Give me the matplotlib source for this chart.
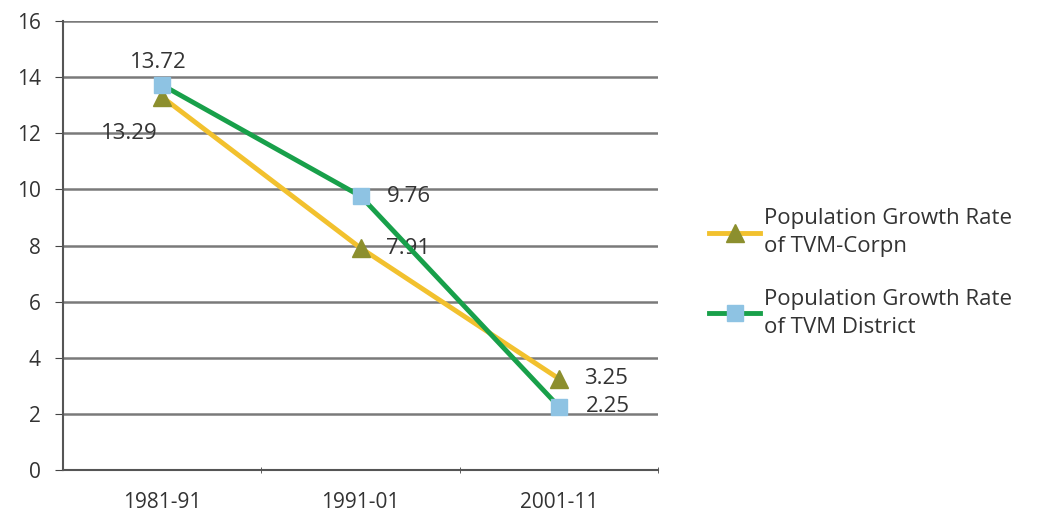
import matplotlib.pyplot as plt
import numpy as np

plt.rcParams['font.family'] = ['Open Sans', 'DejaVu Sans']
plt.rcParams['font.size'] = 15

periods = ['1981-91', '1991-01', '2001-11']
corpn = [13.29, 7.91, 3.25]
district = [13.72, 9.76, 2.25]
corpn_label = 'Population Growth Rate\nof TVM-Corpn'
district_label = 'Population Growth Rate\nof TVM District'

fig = plt.figure(figsize=(10.41, 5.27), dpi=100)
ax = fig.add_axes([0.0605, 0.108, 0.572, 0.852])

x = np.arange(len(periods))
ax.plot(x, corpn, color='#F2C12E', lw=3.5, marker='^', ms=13,
        mfc='#8C8F2E', mec='#8C8F2E', label=corpn_label, zorder=3)
ax.plot(x, district, color='#18A04A', lw=3.5, marker='s', ms=12,
        mfc='#8EC3E3', mec='#8EC3E3', label=district_label, zorder=4)

# value labels
lab = dict(textcoords='offset points', color='#333333', fontsize=16)
ax.annotate(f'{district[0]:.2f}', (x[0], district[0]), xytext=(-3, 9),
            ha='center', va='bottom', **lab)
ax.annotate(f'{corpn[0]:.2f}', (x[0], corpn[0]), xytext=(-24, -26),
            ha='center', va='center', **lab)
for i in (1, 2):
    ax.annotate(f'{district[i]:.2f}', (x[i], district[i]), xytext=(19, 0),
                ha='left', va='center', **lab)
    ax.annotate(f'{corpn[i]:.2f}', (x[i], corpn[i]), xytext=(18, 0),
                ha='left', va='center', **lab)

ax.set_xlim(-0.5, 2.5)
ax.set_ylim(0, 16)
ax.set_yticks(range(0, 17, 2))
ax.set_xticks(x)
ax.set_xticklabels(periods)
ax.set_xticks([0.5, 1.5, 2.5], minor=True)
ax.tick_params(axis='x', which='major', length=0, pad=16, labelcolor='#333333')
ax.tick_params(axis='x', which='minor', length=5, direction='inout', color='#444444')
ax.tick_params(axis='y', length=6, direction='out', color='#444444', pad=10, labelcolor='#333333')

ax.grid(axis='y', color='#7a7a7a', lw=1.8)
ax.set_axisbelow(True)
for s in ('top', 'right'):
    ax.spines[s].set_visible(False)
for s in ('left', 'bottom'):
    ax.spines[s].set_color('#555555')
    ax.spines[s].set_linewidth(1.5)

leg = fig.legend(loc='center left', bbox_to_anchor=(0.662, 0.482), frameon=False,
                 handlelength=2.3, handletextpad=0.15, labelspacing=1.4,
                 fontsize=16, labelcolor='#333333')
for t in leg.get_texts():
    t.set_linespacing(1.45)

fig.savefig('out.png', dpi=100)
